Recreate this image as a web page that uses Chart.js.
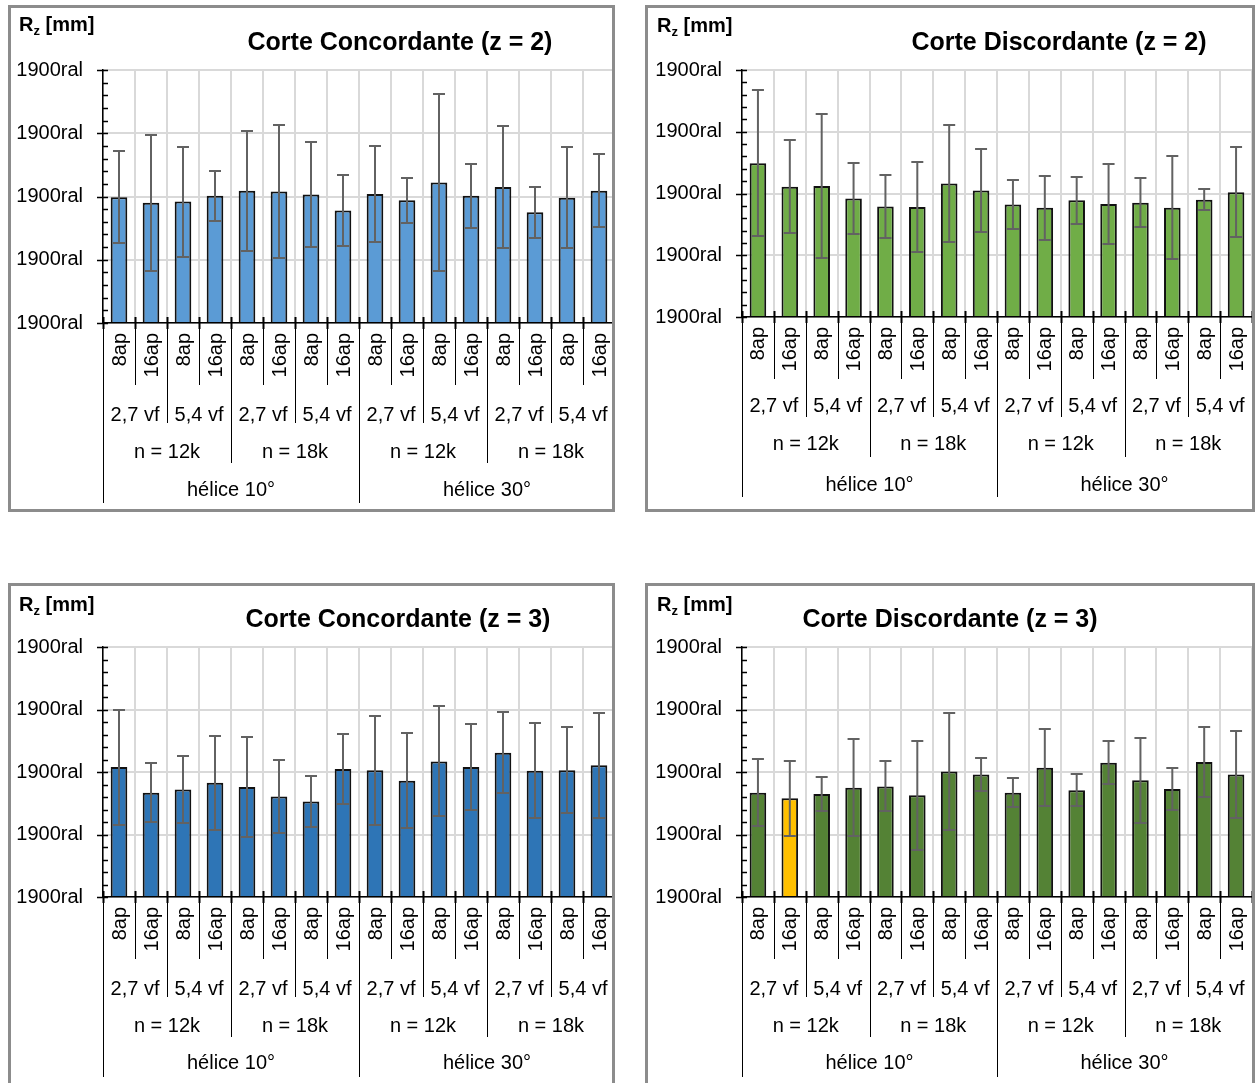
<!DOCTYPE html>
<html>
<head>
<meta charset="utf-8">
<script src="https://cdn.jsdelivr.net/npm/chart.js@4/dist/chart.umd.min.js"></script>
<style>
  body { margin:0; background:#fff; width:1255px; height:1083px; overflow:hidden; position:relative;
         font-family:'Liberation Sans', Arial, sans-serif; }
  canvas { position:absolute; }
  .frame { position:absolute; border:3px solid #8c8c8c; box-sizing:border-box; pointer-events:none; }
  .title { position:absolute; font-weight:bold; font-size:25px; line-height:25px; white-space:nowrap; transform:translateX(-50%); color:#000; }
  .unit  { position:absolute; font-weight:bold; font-size:20px; line-height:20px; white-space:nowrap; color:#000; }
  .unit sub { font-size:13px; vertical-align:-4px; line-height:0; }
</style>
</head>
<body>
<script>
// ---- category levels (innermost first) ----
const apLabels     = ['8ap', '16ap'];
const vfLabels     = ['2,7 vf', '5,4 vf'];
const nLabels      = ['n = 12k', 'n = 18k'];
const heliceLabels = ['hélice 10°', 'hélice 30°'];

// ---- value axis tick labels ----
const yTickLabels = ['1900ral', '1900ral', '1900ral', '1900ral', '1900ral'];

// ---- R_z means and standard deviations ----
const concZ2Values = [1.99, 1.90, 1.92, 2.01, 2.09, 2.08, 2.03, 1.78, 2.04, 1.94, 2.22, 2.01, 2.15, 1.75, 1.98, 2.09];
const concZ2Errors = [0.73, 1.07, 0.87, 0.40, 0.95, 1.05, 0.83, 0.56, 0.76, 0.36, 1.40, 0.51, 0.97, 0.40, 0.80, 0.58];

const discZ2Values = [2.49, 2.11, 2.12, 1.92, 1.79, 1.78, 2.16, 2.05, 1.82, 1.77, 1.89, 1.83, 1.85, 1.77, 1.90, 2.02];
const discZ2Errors = [1.18, 0.75, 1.16, 0.57, 0.51, 0.73, 0.95, 0.67, 0.40, 0.52, 0.38, 0.65, 0.40, 0.83, 0.17, 0.73];

const concZ3Values = [2.08, 1.67, 1.72, 1.83, 1.76, 1.61, 1.53, 2.05, 2.03, 1.86, 2.17, 2.08, 2.31, 2.02, 2.03, 2.11];
const concZ3Errors = [0.92, 0.47, 0.54, 0.75, 0.80, 0.59, 0.41, 0.56, 0.87, 0.76, 0.88, 0.69, 0.65, 0.76, 0.69, 0.84];

const discZ3Values = [1.67, 1.58, 1.65, 1.75, 1.77, 1.63, 2.01, 1.96, 1.67, 2.07, 1.71, 2.15, 1.87, 1.73, 2.16, 1.96];
const discZ3Errors = [0.54, 0.60, 0.27, 0.78, 0.40, 0.87, 0.93, 0.27, 0.23, 0.62, 0.26, 0.34, 0.68, 0.33, 0.56, 0.70];

// build the 16 combined categories: hélice > n > vf > ap
const categories = [];
heliceLabels.forEach(h => nLabels.forEach(n => vfLabels.forEach(v => apLabels.forEach(a => categories.push([a, v, n, h])))));

const FONT = "'Liberation Sans', Arial, sans-serif";

// error bars, axis tick marks and the nested category axis
const nestedAxisPlugin = {
  id: 'nestedAxis',
  afterDatasetsDraw(chart, args, opts) {
    const ctx = chart.ctx, y = chart.scales.y, meta = chart.getDatasetMeta(0);
    ctx.save();
    ctx.strokeStyle = '#626262';
    ctx.lineWidth = 2;
    meta.data.forEach((bar, i) => {
      const v = chart.data.datasets[0].data[i], e = opts.errors[i];
      const yt = Math.round(y.getPixelForValue(v + e)), yb = Math.round(y.getPixelForValue(v - e));
      ctx.beginPath();
      ctx.moveTo(bar.x, yt); ctx.lineTo(bar.x, yb);
      ctx.moveTo(bar.x - 6, yt); ctx.lineTo(bar.x + 6, yt);
      ctx.moveTo(bar.x - 6, yb); ctx.lineTo(bar.x + 6, yb);
      ctx.stroke();
    });
    ctx.restore();
  },
  afterDraw(chart, args, opts) {
    const ctx = chart.ctx, y = chart.scales.y, a = chart.chartArea;
    ctx.save();
    ctx.strokeStyle = '#000';
    // value axis ticks: major crossing, minor inside
    ctx.lineWidth = 1.5;
    ctx.beginPath();
    for (let t = y.min; t <= y.max + 1e-9; t += 1) {
      const py = Math.round(y.getPixelForValue(t)) + 0.5;
      ctx.moveTo(a.left - 6, py); ctx.lineTo(a.left + 5, py);
      if (t < y.max) {
        for (let k = 1; k < 5; k++) {
          const my = Math.round(y.getPixelForValue(t + k * 0.2)) + 0.5;
          ctx.moveTo(a.left, my); ctx.lineTo(a.left + 5, my);
        }
      }
    }
    ctx.stroke();

    // category boundaries
    const n = categories.length, w = (a.right - a.left) / n, base = a.bottom;
    const d = opts.depth;
    for (let i = 0; i <= n; i++) {
      const px = Math.round(a.left + i * w) + 0.5;
      let len = d.ap;
      if (i % 8 === 0) len = d.helice; else if (i % 4 === 0) len = d.n; else if (i % 2 === 0) len = d.vf;
      ctx.lineWidth = 2;
      ctx.beginPath(); ctx.moveTo(px, base - 6); ctx.lineTo(px, base + 6); ctx.stroke();
      ctx.lineWidth = 1;
      ctx.beginPath(); ctx.moveTo(px, base); ctx.lineTo(px, base + len); ctx.stroke();
    }

    // labels
    ctx.fillStyle = '#000';
    ctx.font = `20px ${FONT}`;
    const r = opts.rows;
    for (let i = 0; i < n; i++) {
      const cx = a.left + (i + 0.5) * w;
      ctx.save();
      ctx.translate(cx + 1, base + r.ap);
      ctx.rotate(-Math.PI / 2);
      ctx.textAlign = 'right';
      ctx.textBaseline = 'middle';
      ctx.fillText(categories[i][0], 0, 0);
      ctx.restore();
    }
    ctx.textAlign = 'center';
    ctx.textBaseline = 'middle';
    const groupRow = (size, level, off) => {
      for (let g = 0; g < n / size; g++) {
        const cx = a.left + (g + 0.5) * size * w;
        ctx.fillText(categories[g * size][level], cx, base + off);
      }
    };
    groupRow(2, 1, r.vf);
    groupRow(4, 2, r.n);
    groupRow(8, 3, r.helice);
    ctx.restore();
  }
};

const panels = [
  { box: [8, 5, 607, 507],   area: [103, 70, 615, 323],  title: 'Corte Concordante (z = 2)', tx: 400,  ty: 29,
    values: concZ2Values, errors: concZ2Errors, color: '#5B9BD5', unit: [19, 14],
    rows: { ap: 10, vf: 92, n: 129, helice: 167 } },
  { box: [645, 5, 610, 507], area: [742, 70, 1252, 317], title: 'Corte Discordante (z = 2)', tx: 1059, ty: 29,
    values: discZ2Values, errors: discZ2Errors, color: '#70AD47', unit: [657, 15],
    rows: { ap: 10, vf: 89, n: 127, helice: 168 } },
  { box: [8, 583, 607, 510], area: [103, 647, 615, 897], title: 'Corte Concordante (z = 3)', tx: 398,  ty: 606,
    values: concZ3Values, errors: concZ3Errors, color: '#2E75B6', unit: [19, 594],
    rows: { ap: 10, vf: 92, n: 129, helice: 166 } },
  { box: [645, 583, 610, 510], area: [742, 647, 1252, 897], title: 'Corte Discordante (z = 3)', tx: 950, ty: 606,
    values: discZ3Values, errors: discZ3Errors, color: '#548235', unit: [657, 594], highlight: { 1: '#FFC000' },
    rows: { ap: 10, vf: 92, n: 129, helice: 166 } }
];

panels.forEach(p => {
  const [bx, by, bw, bh] = p.box;
  const [al, at, ar, ab] = p.area;
  const cv = document.createElement('canvas');
  cv.width = bw; cv.height = Math.min(bh, 1083 - by);
  cv.style.left = bx + 'px'; cv.style.top = by + 'px';
  document.body.appendChild(cv);

  const frame = document.createElement('div');
  frame.className = 'frame';
  Object.assign(frame.style, { left: bx + 'px', top: by + 'px', width: bw + 'px', height: bh + 'px' });
  document.body.appendChild(frame);

  const t = document.createElement('div');
  t.className = 'title'; t.textContent = p.title;
  Object.assign(t.style, { left: p.tx + 'px', top: p.ty + 'px' });
  document.body.appendChild(t);

  const u = document.createElement('div');
  u.className = 'unit'; u.innerHTML = 'R<sub>z</sub> [mm]';
  Object.assign(u.style, { left: p.unit[0] + 'px', top: p.unit[1] + 'px' });
  document.body.appendChild(u);

  const colors = p.values.map((_, i) => (p.highlight && p.highlight[i]) || p.color);
  const canvasH = cv.height;

  new Chart(cv, {
    type: 'bar',
    data: {
      labels: categories,
      datasets: [{ data: p.values, backgroundColor: colors, borderColor: '#111', borderWidth: 2,
                   categoryPercentage: 0.52, barPercentage: 1 }]
    },
    plugins: [nestedAxisPlugin],
    options: {
      responsive: false, animation: false, devicePixelRatio: 1,
      layout: { padding: { left: 0, top: at - by, right: bx + bw - ar, bottom: 0 } },
      plugins: {
        legend: { display: false }, tooltip: { enabled: false },
        nestedAxis: { errors: p.errors, rows: p.rows,
                      depth: { ap: 62, vf: 100, n: 140, helice: 180 } }
      },
      scales: {
        x: {
          ticks: { display: false },
          grid: { color: '#d9d9d9', lineWidth: 2, drawTicks: false, offset: true },
          border: { color: '#000', width: 1.5 },
          afterFit: s => { s.height = by + canvasH - ab; }
        },
        y: {
          min: 0, max: 4,
          ticks: { stepSize: 1, padding: 20, color: '#000', font: { family: FONT, size: 20 },
                   callback: (v, i) => yTickLabels[i] },
          grid: { color: '#d9d9d9', lineWidth: 2, drawTicks: false },
          border: { color: '#000', width: 1.5 },
          afterFit: s => { s.width = al - bx; }
        }
      }
    }
  });
});
</script>
</body>
</html>
